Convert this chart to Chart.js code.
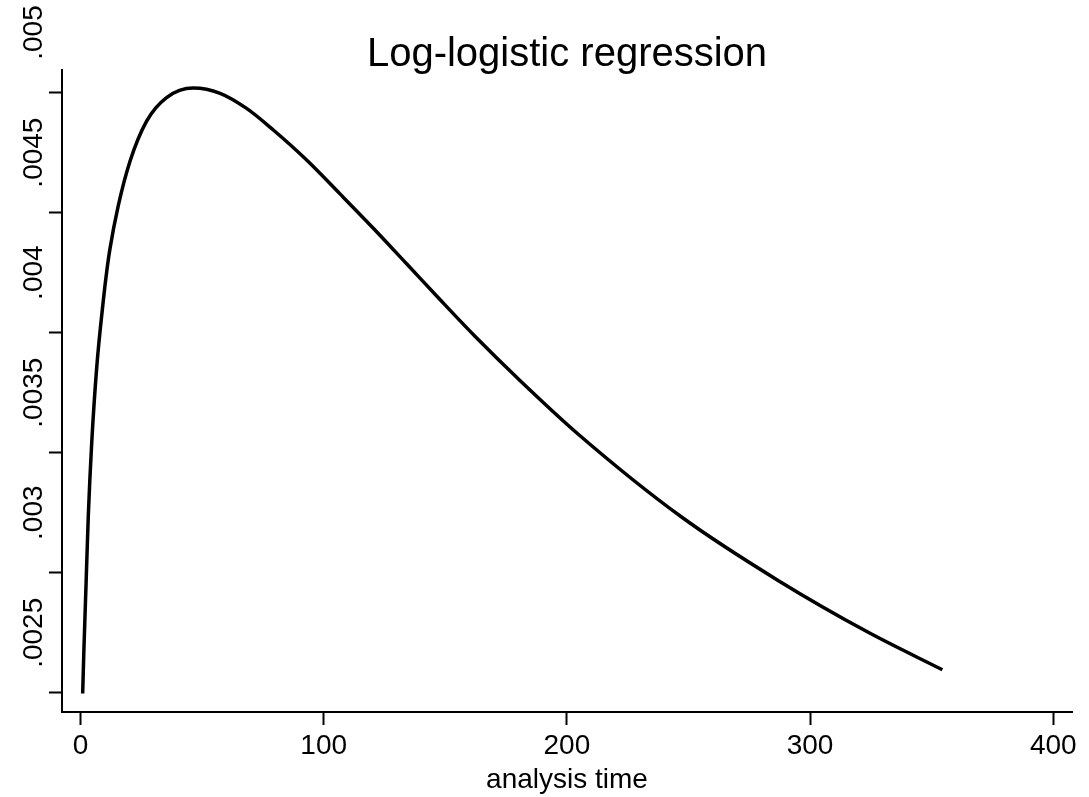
<!DOCTYPE html>
<html lang="en">
<head>
  <meta charset="UTF-8" />
  <title>Log-logistic regression</title>
  <script src="https://cdn.jsdelivr.net/npm/chart.js"></script>
  <style>
    html, body { margin: 0; padding: 0; background: #fff; }
    #wrap { position: relative; width: 1089px; height: 797px; }
  </style>
</head>
<body>
  <div id="wrap">
    <canvas id="hazardChart"></canvas>
  </div>

  <script>
    // values
    const analysisTime = [0.9, 1.4, 2.3, 3.2, 4.6, 6.7, 9.4, 10.8, 12.1, 15.5, 20.4, 27.2, 35.4, 46.4,
      57.4, 68.3, 79.3, 93.0, 106.7, 120.4, 134.1, 147.8, 162.2, 180.7, 204.8, 247.3, 287.0, 323.9, 354.4];
    const hazard = [0.002497, 0.002677, 0.002955, 0.003233, 0.003538, 0.003858, 0.004135, 0.004256,
      0.004348, 0.004527, 0.004715, 0.004881, 0.004979, 0.005019, 0.004997, 0.004934, 0.004844,
      0.004719, 0.004578, 0.004435, 0.004287, 0.004138, 0.003985, 0.003801, 0.003576, 0.003231,
      0.002967, 0.002752, 0.002596];

    const xTicks = [0, 100, 200, 300, 400];
    const yTicks = [0.0025, 0.003, 0.0035, 0.004, 0.0045, 0.005];
    const yTickLabels = ['.0025', '.003', '.0035', '.004', '.0045', '.005'];

    const FONT = "'Liberation Sans', Arial, Helvetica, sans-serif";

    // y labels sit half a step above their tick in the original, and title is centred on the plot
    const stataText = {
      id: 'stataText',
      afterDraw(chart) {
        const ctx = chart.ctx;
        const y = chart.scales.y;
        const area = chart.chartArea;
        ctx.save();
        ctx.fillStyle = '#000';
        ctx.font = '28px ' + FONT;
        ctx.textAlign = 'center';
        ctx.textBaseline = 'alphabetic';
        yTicks.forEach((v, i) => {
          const py = (y.getPixelForValue(v) + y.getPixelForValue(v + 0.0005)) / 2;
          ctx.save();
          ctx.translate(42, py);
          ctx.rotate(-Math.PI / 2);
          ctx.fillText(yTickLabels[i], 0, 0);
          ctx.restore();
        });
        ctx.font = '40px ' + FONT;
        ctx.fillText('Log-logistic regression', (area.left + area.right) / 2, 66);
        ctx.restore();
      }
    };

    const ctx = document.getElementById('hazardChart').getContext('2d');
    new Chart(ctx, {
      type: 'line',
      data: {
        datasets: [{
          data: analysisTime.map((t, i) => ({ x: t, y: hazard[i] })),
          borderColor: '#000',
          borderWidth: 3.5,
          pointRadius: 0,
          fill: false,
          cubicInterpolationMode: 'monotone'
        }]
      },
      options: {
        responsive: true,
        maintainAspectRatio: false,
        animation: false,
        layout: { padding: { top: 70, right: 17, bottom: 0, left: 0 } },
        plugins: {
          legend: { display: false },
          tooltip: { enabled: false },
          title: { display: false }
        },
        scales: {
          x: {
            type: 'linear',
            min: -7.6,
            max: 407.7,
            afterBuildTicks: s => { s.ticks = xTicks.map(v => ({ value: v })); },
            afterFit: s => { s.height = 85; },
            grid: { display: true, drawOnChartArea: false, drawTicks: true, tickLength: 13, tickWidth: 2, tickColor: '#000' },
            border: { display: true, color: '#000', width: 2 },
            ticks: { color: '#000', padding: 4, maxRotation: 0, font: { family: FONT, size: 28 } },
            title: {
              display: true,
              text: 'analysis time',
              color: '#000',
              font: { family: FONT, size: 28, lineHeight: 1 },
              padding: { top: 0, bottom: 3 }
            }
          },
          y: {
            type: 'linear',
            min: 0.00242,
            max: 0.005094,
            afterBuildTicks: s => { s.ticks = yTicks.map(v => ({ value: v })); },
            afterFit: s => { s.width = 62; },
            grid: { display: true, drawOnChartArea: false, drawTicks: true, tickLength: 13, tickWidth: 2, tickColor: '#000' },
            border: { display: true, color: '#000', width: 2 },
            ticks: { display: false }
          }
        }
      },
      plugins: [stataText]
    });
  </script>
</body>
</html>
